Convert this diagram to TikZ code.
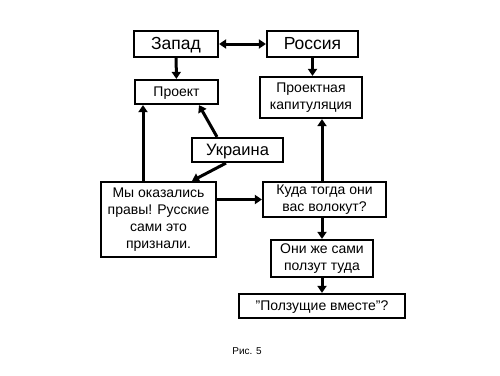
\documentclass[tikz,border=0pt]{standalone}
\usepackage{fontspec}
\setmainfont{Liberation Sans}
\usetikzlibrary{arrows.meta}
\begin{document}
\begin{tikzpicture}[x=1pt,y=-1pt,
  box/.style={draw,line width=2.2pt,inner sep=0pt,align=center},
  conn/.style={line width=3pt,-{Triangle[length=7pt,width=9pt]}},
  big/.style={font=\fontsize{17.5}{19}\selectfont,text height=12.6pt,text depth=1.5pt},
  mid/.style={font=\fontsize{16.5}{18}\selectfont,text height=11.9pt,text depth=1.5pt},
  sml/.style={font=\fontsize{14}{17}\selectfont},
  smlone/.style={sml,text height=10pt,text depth=1.2pt}]
\useasboundingbox (0,0) rectangle (500,375);
\node[box,big,minimum width=84pt,minimum height=26pt] (zapad) at (176,44) {Запад};
\node[box,big,minimum width=91pt,minimum height=26pt] (rossia) at (312.5,44) {Россия};
\node[box,smlone,minimum width=83pt,minimum height=24pt] (proekt) at (176.5,92) {Проект};
\node[box,sml,minimum width=102pt,minimum height=41pt] (kapit) at (311,97.5) {Проектная\\капитуляция};
\node[box,mid,minimum width=91pt,minimum height=24pt] (ukr) at (237.5,150) {Украина};
\node[box,sml,minimum width=115pt,minimum height=75pt] (my) at (158.5,219.5) {Мы оказались\\правы! Русские\\сами это\\признали.};
\node[box,sml,minimum width=123pt,minimum height=35pt] (kuda) at (324.5,199.5) {Куда тогда они\\вас волокут?};
\node[box,sml,minimum width=102pt,minimum height=37pt] (oni) at (322,258.5) {Они же сами\\ползут туда};
\node[box,smlone,minimum width=166pt,minimum height=24pt] (polz) at (322,306) {"Ползущие вместе"?};
\node[font=\fontsize{10}{12}\selectfont] (ris) at (247,351) {Рис. 5};
\draw[conn,{Triangle[length=7pt,width=9pt]}-{Triangle[length=7pt,width=9pt]}] (zapad.east) -- (rossia.west);
\draw[conn] (zapad) -- (proekt);
\draw[conn] (rossia.south) -- (rossia.south |- kapit.north);
\draw[conn] (my.north -| 143,0) -- (proekt.south -| 143,0);
\draw[conn] (ukr.north -| 217,0) -- (proekt.south -| 199,0);
\draw[conn] (ukr.south -| 226,0) -- (my.north -| 192,0);
\draw[conn] (my.east |- kuda) -- (kuda.west);
\draw[conn] (kuda.north -| 322,0) -- (kapit.south -| 322,0);
\draw[conn] (kuda.south -| 322,0) -- (oni.north);
\draw[conn] (oni) -- (polz);
\end{tikzpicture}
\end{document}
